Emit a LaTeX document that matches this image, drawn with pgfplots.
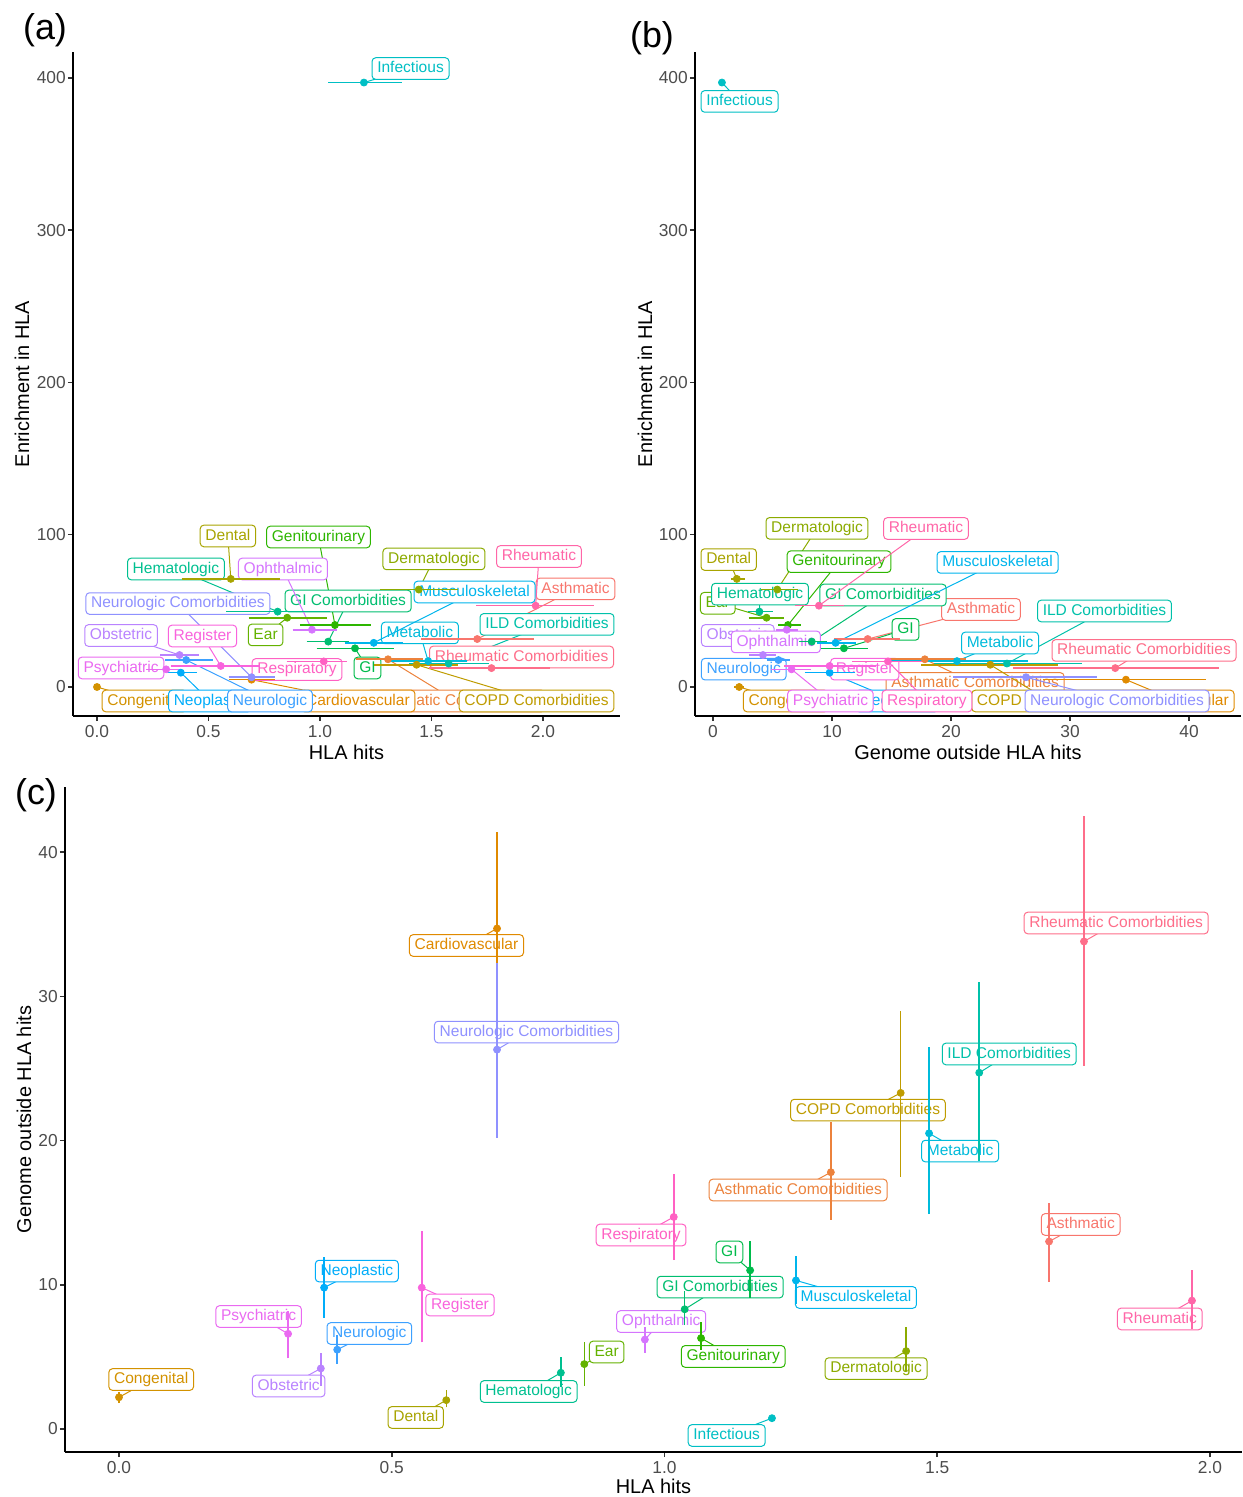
\documentclass[border=0pt]{standalone}
\usepackage{pgfplots}
\pgfplotsset{compat=1.18}
\usepackage{fontspec}
\setmainfont{Liberation Sans}
\definecolor{cAsth}{HTML}{F8766D}
\definecolor{cAsthC}{HTML}{EC823C}
\definecolor{cCard}{HTML}{E08A00}
\definecolor{cCong}{HTML}{D39200}
\definecolor{cCOPD}{HTML}{BF9C00}
\definecolor{cDent}{HTML}{A8A400}
\definecolor{cDerm}{HTML}{8CAB00}
\definecolor{cEar}{HTML}{64B200}
\definecolor{cGen}{HTML}{2DB600}
\definecolor{cGI}{HTML}{00BB4B}
\definecolor{cGIC}{HTML}{00BE70}
\definecolor{cHem}{HTML}{00C090}
\definecolor{cILD}{HTML}{00C1AA}
\definecolor{cInf}{HTML}{00BFC4}
\definecolor{cMet}{HTML}{00BBDB}
\definecolor{cMus}{HTML}{00B5EC}
\definecolor{cNeo}{HTML}{00ADFA}
\definecolor{cNeur}{HTML}{3DA1FF}
\definecolor{cNeurC}{HTML}{8F91FF}
\definecolor{cObs}{HTML}{B983FF}
\definecolor{cOph}{HTML}{D575FE}
\definecolor{cPsy}{HTML}{EA6AF1}
\definecolor{cReg}{HTML}{F963DD}
\definecolor{cResp}{HTML}{FF61C3}
\definecolor{cRheu}{HTML}{FF66A8}
\definecolor{cRheuC}{HTML}{FE6E8A}
\tikzset{lbl/.style={fill=white, rounded corners=1.8bp, line width=0.5bp, inner xsep=2.6bp, inner ysep=0pt, minimum height=10.8bp, text height=5.8bp, text depth=1.6bp, font=\fontsize{7.8}{9}\selectfont}}
\newcommand{\lab}[6]{\draw[c#1,line width=0.5bp] (axis cs:#2,#3) -- (axis cs:#4,#5); \node[lbl,draw=c#1,text=c#1] at (axis cs:#4,#5) {#6};}
\newcommand{\errh}[4]{\addplot[c#1,line width=0.8bp,forget plot] coordinates {(#2,#4) (#3,#4)};}
\newcommand{\errv}[4]{\addplot[c#1,line width=0.8bp,forget plot] coordinates {(#4,#2) (#4,#3)};}
\newcommand{\dpt}[3]{\addplot[c#1,only marks,mark=*,mark size=1.75bp,forget plot] coordinates {(#2,#3)};}
\pgfplotsset{ggax/.style={scale only axis, axis x line*=bottom, axis y line*=left, clip=false,
  axis line style={line width=0.75bp,-}, tick align=outside, major tick length=2.6bp,
  tick style={line width=0.75bp, black!80},
  every tick label/.append style={font=\fontsize{8.7}{10}\selectfont, text=black!70},
  xticklabel style={yshift=1.5bp}, yticklabel style={xshift=2.5bp},
  label style={font=\fontsize{10}{12}\selectfont}}}
\begin{document}
\begin{tikzpicture}
\useasboundingbox (0,0) rectangle (621.5bp,748.5bp);
% ---------------- panel (a)
\begin{axis}[ggax, at={(36.5bp,390.5bp)}, anchor=south west, width=273.5bp, height=332bp,
  xmin=-0.1076, xmax=2.3453, ymin=-19.05, ymax=417.08,
  xtick={0,0.5,1,1.5,2}, xticklabels={0.0,0.5,1.0,1.5,2.0},
  ytick={0,100,200,300,400}, yticklabels={0,100,200,300,400},
  xlabel={HLA hits}, ylabel={Enrichment in HLA},
  xlabel style={at={(axis description cs:0.5,-0.0542)}, anchor=center},
  ylabel style={at={(axis description cs:-0.0932,0.5)}, anchor=center}]
\lab{Asth}{1.705}{31.5}{2.146}{64.4}{Asthmatic}
\lab{AsthC}{1.305}{18.2}{1.610}{-9.2}{Asthmatic Comorbidities}
\lab{Card}{0.693}{4.8}{1.170}{-9.2}{Cardiovascular}
\lab{Cong}{0}{0}{0.213}{-9.2}{Congenital}
\lab{COPD}{1.433}{14.6}{1.971}{-9.2}{COPD Comorbidities}
\lab{Dent}{0.60}{71}{0.587}{99.2}{Dental}
\lab{Derm}{1.443}{64}{1.511}{84.1}{Dermatologic}
\lab{Ear}{0.853}{45.5}{0.756}{34.2}{Ear}
\lab{Gen}{1.067}{40.7}{0.993}{98.5}{Genitourinary}
\lab{GI}{1.157}{25.4}{1.213}{12.5}{GI}
\lab{GIC}{1.037}{29.8}{1.126}{56.5}{GI Comorbidities}
\lab{Hem}{0.81}{49.5}{0.354}{77.5}{Hematologic}
\lab{ILD}{1.577}{15.4}{2.018}{41.1}{ILD Comorbidities}
\lab{Inf}{1.197}{397}{1.406}{406.2}{Infectious}
\lab{Met}{1.485}{17.0}{1.448}{35.5}{Metabolic}
\lab{Mus}{1.241}{29.0}{1.693}{62.4}{Musculoskeletal}
\lab{Neo}{0.376}{9.4}{0.507}{-9.2}{Neoplastic}
\lab{Neur}{0.40}{17.7}{0.776}{-9.2}{Neurologic}
\lab{NeurC}{0.693}{6.4}{0.363}{54.8}{Neurologic Comorbidities}
\lab{Obs}{0.37}{21.0}{0.108}{33.8}{Obstetric}
\lab{Oph}{0.964}{37.6}{0.834}{77.5}{Ophthalmic}
\lab{Psy}{0.31}{11.6}{0.108}{12.5}{Psychiatric}
\lab{Reg}{0.555}{13.8}{0.473}{33.5}{Register}
\lab{Resp}{1.017}{16.8}{0.897}{11.5}{Respiratory}
\lab{Rheu}{1.967}{53.4}{1.982}{85.7}{Rheumatic}
\lab{RheuC}{1.769}{12.4}{1.904}{19.7}{Rheumatic Comorbidities}
\errh{Asth}{1.455}{1.96}{31.5}
\errh{AsthC}{1.16}{1.46}{18.2}
\errh{Card}{0.59}{0.80}{4.8}
\errh{COPD}{1.24}{1.62}{14.6}
\errh{Dent}{0.38}{0.82}{71}
\errh{Derm}{1.27}{1.62}{64}
\errh{Ear}{0.68}{1.03}{45.5}
\errh{Gen}{0.91}{1.23}{40.7}
\errh{GI}{0.985}{1.33}{25.4}
\errh{GIC}{0.94}{1.13}{29.8}
\errh{Hem}{0.58}{1.045}{49.5}
\errh{ILD}{1.40}{1.76}{15.4}
\errh{Inf}{1.036}{1.368}{397}
\errh{Met}{1.31}{1.66}{17.0}
\errh{Mus}{1.11}{1.37}{29.0}
\errh{Neo}{0.31}{0.45}{9.4}
\errh{Neur}{0.305}{0.52}{17.7}
\errh{NeurC}{0.59}{0.80}{6.4}
\errh{Obs}{0.283}{0.457}{21.0}
\errh{Oph}{0.877}{1.075}{37.6}
\errh{Psy}{0.22}{0.37}{11.6}
\errh{Reg}{0.33}{0.73}{13.8}
\errh{Resp}{0.85}{1.12}{16.8}
\errh{Rheu}{1.70}{2.23}{53.4}
\errh{RheuC}{1.49}{2.03}{12.4}
\dpt{Asth}{1.705}{31.5}
\dpt{AsthC}{1.305}{18.2}
\dpt{Card}{0.693}{4.8}
\dpt{Cong}{0}{0}
\dpt{COPD}{1.433}{14.6}
\dpt{Dent}{0.60}{71}
\dpt{Derm}{1.443}{64}
\dpt{Ear}{0.853}{45.5}
\dpt{Gen}{1.067}{40.7}
\dpt{GI}{1.157}{25.4}
\dpt{GIC}{1.037}{29.8}
\dpt{Hem}{0.81}{49.5}
\dpt{ILD}{1.577}{15.4}
\dpt{Inf}{1.197}{397}
\dpt{Met}{1.485}{17.0}
\dpt{Mus}{1.241}{29.0}
\dpt{Neo}{0.376}{9.4}
\dpt{Neur}{0.40}{17.7}
\dpt{NeurC}{0.693}{6.4}
\dpt{Obs}{0.37}{21.0}
\dpt{Oph}{0.964}{37.6}
\dpt{Psy}{0.31}{11.6}
\dpt{Reg}{0.555}{13.8}
\dpt{Resp}{1.017}{16.8}
\dpt{Rheu}{1.967}{53.4}
\dpt{RheuC}{1.769}{12.4}
\end{axis}
% ---------------- panel (b)
\begin{axis}[ggax, at={(347.5bp,390.5bp)}, anchor=south west, width=273bp, height=332bp,
  xmin=-1.513, xmax=44.37, ymin=-19.05, ymax=417.08,
  xtick={0,10,20,30,40}, xticklabels={0,10,20,30,40},
  ytick={0,100,200,300,400}, yticklabels={0,100,200,300,400},
  xlabel={Genome outside HLA hits}, ylabel={Enrichment in HLA},
  xlabel style={at={(axis description cs:0.5,-0.0542)}, anchor=center},
  ylabel style={at={(axis description cs:-0.0916,0.5)}, anchor=center}]
\lab{Asth}{13.0}{31.5}{22.52}{50.9}{Asthmatic}
\lab{AsthC}{17.8}{18.2}{22.02}{2.3}{Asthmatic Comorbidities}
\lab{Card}{34.7}{4.8}{38.99}{-9.2}{Cardiovascular}
\lab{Cong}{2.2}{0}{6.11}{-9.2}{Congenital}
\lab{COPD}{23.3}{14.6}{28.24}{-9.2}{COPD Comorbidities}
\lab{Dent}{2.0}{71}{1.32}{83.7}{Dental}
\lab{Derm}{5.4}{64}{8.74}{104.2}{Dermatologic}
\lab{Ear}{4.5}{45.5}{0.40}{55.0}{Ear}
\lab{Gen}{6.3}{40.7}{10.59}{82.3}{Genitourinary}
\lab{GI}{11.0}{25.4}{16.18}{37.8}{GI}
\lab{GIC}{8.3}{29.8}{14.29}{60.4}{GI Comorbidities}
\lab{Hem}{3.9}{49.5}{3.95}{61.0}{Hematologic}
\lab{ILD}{24.7}{15.4}{32.90}{49.9}{ILD Comorbidities}
\lab{Inf}{0.75}{397}{2.23}{384.6}{Infectious}
\lab{Met}{20.5}{17.0}{24.12}{28.9}{Metabolic}
\lab{Mus}{10.3}{29.0}{23.91}{81.8}{Musculoskeletal}
\lab{Neo}{9.8}{9.4}{15.46}{-9.2}{Neoplastic}
\lab{Neur}{5.5}{17.7}{2.58}{11.7}{Neurologic}
\lab{NeurC}{26.3}{6.4}{33.95}{-9.2}{Neurologic Comorbidities}
\lab{Obs}{4.2}{21.0}{2.08}{33.8}{Obstetric}
\lab{Oph}{6.2}{37.6}{5.28}{29.6}{Ophthalmic}
\lab{Psy}{6.6}{11.6}{9.87}{-9.2}{Psychiatric}
\lab{Reg}{9.8}{13.8}{12.75}{11.7}{Register}
\lab{Resp}{14.7}{16.8}{17.98}{-9.2}{Respiratory}
\lab{Rheu}{8.9}{53.4}{17.90}{104.1}{Rheumatic}
\lab{RheuC}{33.8}{12.4}{36.22}{24.0}{Rheumatic Comorbidities}
\errh{Asth}{10.2}{15.7}{31.5}
\errh{AsthC}{14.5}{21.3}{18.2}
\errh{Card}{27.7}{41.4}{4.8}
\errh{Cong}{1.8}{2.6}{0}
\errh{COPD}{17.5}{29.0}{14.6}
\errh{Dent}{1.5}{2.7}{71}
\errh{Derm}{4.0}{7.1}{64}
\errh{Ear}{3.0}{6.0}{45.5}
\errh{Gen}{5.5}{7.4}{40.7}
\errh{GI}{9.1}{13.0}{25.4}
\errh{GIC}{7.2}{9.6}{29.8}
\errh{Hem}{2.9}{5.0}{49.5}
\errh{ILD}{18.6}{31.0}{15.4}
\errh{Inf}{0.55}{0.95}{397}
\errh{Met}{14.9}{26.5}{17.0}
\errh{Mus}{8.7}{12.0}{29.0}
\errh{Neo}{7.7}{11.9}{9.4}
\errh{Neur}{4.5}{6.5}{17.7}
\errh{NeurC}{20.2}{32.3}{6.4}
\errh{Obs}{3.0}{5.3}{21.0}
\errh{Oph}{5.3}{7.1}{37.6}
\errh{Psy}{4.9}{8.2}{11.6}
\errh{Reg}{6.0}{13.7}{13.8}
\errh{Resp}{11.7}{17.7}{16.8}
\errh{Rheu}{6.9}{11.0}{53.4}
\errh{RheuC}{25.2}{42.5}{12.4}
\dpt{Asth}{13.0}{31.5}
\dpt{AsthC}{17.8}{18.2}
\dpt{Card}{34.7}{4.8}
\dpt{Cong}{2.2}{0}
\dpt{COPD}{23.3}{14.6}
\dpt{Dent}{2.0}{71}
\dpt{Derm}{5.4}{64}
\dpt{Ear}{4.5}{45.5}
\dpt{Gen}{6.3}{40.7}
\dpt{GI}{11.0}{25.4}
\dpt{GIC}{8.3}{29.8}
\dpt{Hem}{3.9}{49.5}
\dpt{ILD}{24.7}{15.4}
\dpt{Inf}{0.75}{397}
\dpt{Met}{20.5}{17.0}
\dpt{Mus}{10.3}{29.0}
\dpt{Neo}{9.8}{9.4}
\dpt{Neur}{5.5}{17.7}
\dpt{NeurC}{26.3}{6.4}
\dpt{Obs}{4.2}{21.0}
\dpt{Oph}{6.2}{37.6}
\dpt{Psy}{6.6}{11.6}
\dpt{Reg}{9.8}{13.8}
\dpt{Resp}{14.7}{16.8}
\dpt{Rheu}{8.9}{53.4}
\dpt{RheuC}{33.8}{12.4}
\end{axis}
% ---------------- panel (c)
\begin{axis}[ggax, at={(32.5bp,22.5bp)}, anchor=south west, width=588.5bp, height=332.5bp,
  xmin=-0.099, xmax=2.0587, ymin=-1.594, ymax=44.51,
  xtick={0,0.5,1,1.5,2}, xticklabels={0.0,0.5,1.0,1.5,2.0},
  ytick={0,10,20,30,40}, yticklabels={0,10,20,30,40},
  xlabel={HLA hits}, ylabel={Genome outside HLA hits},
  xlabel style={at={(axis description cs:0.5,-0.0511)}, anchor=center},
  ylabel style={at={(axis description cs:-0.0348,0.5)}, anchor=center}]
\lab{Asth}{1.705}{13.0}{1.763}{14.18}{Asthmatic}
\lab{AsthC}{1.305}{17.8}{1.245}{16.57}{Asthmatic Comorbidities}
\lab{Card}{0.693}{34.7}{0.637}{33.52}{Cardiovascular}
\lab{Cong}{0}{2.2}{0.059}{3.43}{Congenital}
\lab{COPD}{1.433}{23.3}{1.373}{22.11}{COPD Comorbidities}
\lab{Dent}{0.60}{2.0}{0.544}{0.80}{Dental}
\lab{Derm}{1.443}{5.4}{1.388}{4.19}{Dermatologic}
\lab{Ear}{0.853}{4.5}{0.894}{5.34}{Ear}
\lab{Gen}{1.067}{6.3}{1.126}{5.03}{Genitourinary}
\lab{GI}{1.157}{11.0}{1.119}{12.27}{GI}
\lab{GIC}{1.037}{8.3}{1.102}{9.84}{GI Comorbidities}
\lab{Hem}{0.81}{3.9}{0.751}{2.60}{Hematologic}
\lab{ILD}{1.577}{24.7}{1.632}{26.0}{ILD Comorbidities}
\lab{Inf}{1.197}{0.75}{1.114}{-0.45}{Infectious}
\lab{Met}{1.485}{20.5}{1.542}{19.27}{Metabolic}
\lab{Mus}{1.241}{10.3}{1.351}{9.12}{Musculoskeletal}
\lab{Neo}{0.376}{9.8}{0.436}{10.95}{Neoplastic}
\lab{Neur}{0.40}{5.5}{0.459}{6.62}{Neurologic}
\lab{NeurC}{0.693}{26.3}{0.747}{27.52}{Neurologic Comorbidities}
\lab{Obs}{0.37}{4.2}{0.311}{2.98}{Obstetric}
\lab{Oph}{0.964}{6.2}{0.994}{7.45}{Ophthalmic}
\lab{Psy}{0.31}{6.6}{0.256}{7.80}{Psychiatric}
\lab{Reg}{0.555}{9.8}{0.625}{8.60}{Register}
\lab{Resp}{1.017}{14.7}{0.957}{13.45}{Respiratory}
\lab{Rheu}{1.967}{8.9}{1.908}{7.63}{Rheumatic}
\lab{RheuC}{1.769}{33.8}{1.828}{35.08}{Rheumatic Comorbidities}
\errv{Asth}{10.2}{15.7}{1.705}
\errv{AsthC}{14.5}{21.3}{1.305}
\errv{Card}{27.7}{41.4}{0.693}
\errv{Cong}{1.8}{2.6}{0}
\errv{COPD}{17.5}{29.0}{1.433}
\errv{Dent}{1.5}{2.7}{0.60}
\errv{Derm}{4.0}{7.1}{1.443}
\errv{Ear}{3.0}{6.0}{0.853}
\errv{Gen}{5.5}{7.4}{1.067}
\errv{GI}{9.1}{13.0}{1.157}
\errv{GIC}{7.2}{9.6}{1.037}
\errv{Hem}{2.9}{5.0}{0.81}
\errv{ILD}{18.6}{31.0}{1.577}
\errv{Inf}{0.55}{0.95}{1.197}
\errv{Met}{14.9}{26.5}{1.485}
\errv{Mus}{8.7}{12.0}{1.241}
\errv{Neo}{7.7}{11.9}{0.376}
\errv{Neur}{4.5}{6.5}{0.40}
\errv{NeurC}{20.2}{32.3}{0.693}
\errv{Obs}{3.0}{5.3}{0.37}
\errv{Oph}{5.3}{7.1}{0.964}
\errv{Psy}{4.9}{8.2}{0.31}
\errv{Reg}{6.0}{13.7}{0.555}
\errv{Resp}{11.7}{17.7}{1.017}
\errv{Rheu}{6.9}{11.0}{1.967}
\errv{RheuC}{25.2}{42.5}{1.769}
\dpt{Asth}{1.705}{13.0}
\dpt{AsthC}{1.305}{17.8}
\dpt{Card}{0.693}{34.7}
\dpt{Cong}{0}{2.2}
\dpt{COPD}{1.433}{23.3}
\dpt{Dent}{0.60}{2.0}
\dpt{Derm}{1.443}{5.4}
\dpt{Ear}{0.853}{4.5}
\dpt{Gen}{1.067}{6.3}
\dpt{GI}{1.157}{11.0}
\dpt{GIC}{1.037}{8.3}
\dpt{Hem}{0.81}{3.9}
\dpt{ILD}{1.577}{24.7}
\dpt{Inf}{1.197}{0.75}
\dpt{Met}{1.485}{20.5}
\dpt{Mus}{1.241}{10.3}
\dpt{Neo}{0.376}{9.8}
\dpt{Neur}{0.40}{5.5}
\dpt{NeurC}{0.693}{26.3}
\dpt{Obs}{0.37}{4.2}
\dpt{Oph}{0.964}{6.2}
\dpt{Psy}{0.31}{6.6}
\dpt{Reg}{0.555}{9.8}
\dpt{Resp}{1.017}{14.7}
\dpt{Rheu}{1.967}{8.9}
\dpt{RheuC}{1.769}{33.8}
\end{axis}
\node[font=\fontsize{18}{20}\selectfont] at (22.5bp,733.5bp) {(a)};
\node[font=\fontsize{18}{20}\selectfont] at (326bp,729.5bp) {(b)};
\node[font=\fontsize{18}{20}\selectfont] at (18bp,351bp) {(c)};
\end{tikzpicture}
\end{document}
